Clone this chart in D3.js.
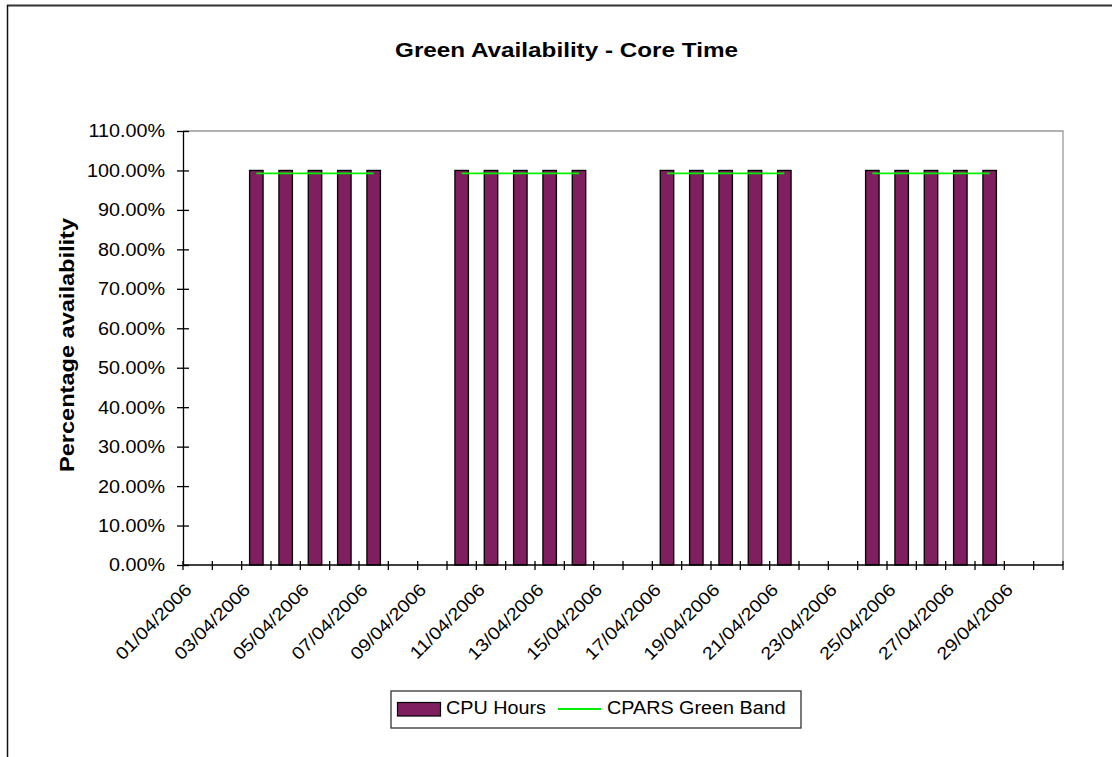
<!DOCTYPE html>
<html>
<head>
<meta charset="utf-8">
<script src="https://cdn.jsdelivr.net/npm/d3@7/dist/d3.min.js"></script>
<style>
  html, body { margin: 0; padding: 0; background: #fff; }
  svg { display: block; }
  text { font-family: "Liberation Sans", Arial, Helvetica, sans-serif; fill: #000; }
</style>
</head>
<body>
<svg id="chart" width="1112" height="757"></svg>
<script>
// ---- data ----
const dates = [
  "01/04/2006","02/04/2006","03/04/2006","04/04/2006","05/04/2006","06/04/2006",
  "07/04/2006","08/04/2006","09/04/2006","10/04/2006","11/04/2006","12/04/2006",
  "13/04/2006","14/04/2006","15/04/2006","16/04/2006","17/04/2006","18/04/2006",
  "19/04/2006","20/04/2006","21/04/2006","22/04/2006","23/04/2006","24/04/2006",
  "25/04/2006","26/04/2006","27/04/2006","28/04/2006","29/04/2006","30/04/2006"
];
const cpuHours = [
  null, null, 1, 1, 1, 1, 1, null, null, 1, 1, 1, 1, 1, null,
  null, 1, 1, 1, 1, 1, null, null, 1, 1, 1, 1, 1, null, null
];
const greenBand = [
  null, null, 0.9925, 0.9925, 0.9925, 0.9925, 0.9925, null, null, 0.9925, 0.9925, 0.9925, 0.9925, 0.9925, null,
  null, 0.9925, 0.9925, 0.9925, 0.9925, 0.9925, null, null, 0.9925, 0.9925, 0.9925, 0.9925, 0.9925, null, null
];
const yTicks = [0, 0.1, 0.2, 0.3, 0.4, 0.5, 0.6, 0.7, 0.8, 0.9, 1.0, 1.1];
const xLabels = dates.filter((d, i) => i % 2 === 0);
const title = "Green Availability - Core Time";
const yTitle = "Percentage availability";
const seriesNames = ["CPU Hours", "CPARS Green Band"];

// ---- layout ----
const plot = { left: 183, right: 1063, top: 131, bottom: 565 };
const barColor = "#7F1F5F";
const lineColor = "#00EE00";
const FS = 17.5;      // tick / legend font size
const K = 1.13;       // horizontal stretch of glyphs seen in the reference

const svg = d3.select("#chart");

// outer frame (top and left edges visible)
svg.append("line").attr("x1", 7).attr("x2", 1112).attr("y1", 5.5).attr("y2", 5.5)
  .attr("stroke", "#333").attr("stroke-width", 2);
svg.append("line").attr("x1", 7.5).attr("x2", 7.5).attr("y1", 5).attr("y2", 757)
  .attr("stroke", "#111").attr("stroke-width", 1.5);

const x = d3.scaleBand().domain(dates).range([plot.left, plot.right]).padding(0);
const y = d3.scaleLinear().domain([0, 1.1]).range([plot.bottom, plot.top]);

// plot area border (top & right, gray)
svg.append("path")
  .attr("d", `M${plot.left},${plot.top}H${plot.right}V${plot.bottom}`)
  .attr("fill", "none").attr("stroke", "#999").attr("stroke-width", 1.3);

// title
svg.append("text").attr("x", 395).attr("y", 57)
  .attr("textLength", 343).attr("lengthAdjust", "spacingAndGlyphs")
  .style("font-size", "20.5px").style("font-weight", "bold")
  .text(title);

// y axis title
svg.append("text")
  .attr("transform", `translate(74,472) rotate(-90)`)
  .attr("textLength", 254).attr("lengthAdjust", "spacingAndGlyphs")
  .style("font-size", "20.5px").style("font-weight", "bold")
  .text(yTitle);

// bars
const bw = x.bandwidth() * 0.46;
svg.append("g").selectAll("rect")
  .data(dates.map((d, i) => ({ d, v: cpuHours[i] })).filter(o => o.v != null))
  .join("rect")
  .attr("x", o => x(o.d) + (x.bandwidth() - bw) / 2)
  .attr("y", o => y(o.v))
  .attr("width", bw)
  .attr("height", o => y(0) - y(o.v))
  .attr("fill", barColor)
  .attr("stroke", "#000").attr("stroke-width", 1.3);

// green band line (gaps on weekends)
const line = d3.line()
  .defined(o => o.v != null)
  .x(o => x(o.d) + x.bandwidth() / 2)
  .y(o => y(o.v));
svg.append("path")
  .datum(dates.map((d, i) => ({ d, v: greenBand[i] })))
  .attr("d", line)
  .attr("fill", "none").attr("stroke", lineColor).attr("stroke-width", 1.8);

// y axis
const yAxis = d3.axisLeft(y).tickValues(yTicks).tickFormat(d3.format(".2%"))
  .tickSizeInner(6).tickSizeOuter(0).tickPadding(12);
const gy = svg.append("g").attr("transform", `translate(${plot.left},0)`).call(yAxis);
gy.select(".domain").attr("stroke", "#000").attr("stroke-width", 1.3);
gy.selectAll(".tick line").attr("x1", 6).attr("x2", -6).attr("stroke", "#000").attr("stroke-width", 1.3);
gy.selectAll(".tick text")
  .attr("x", 0).attr("dy", "0.34em")
  .attr("transform", `translate(-18,0) scale(${K},1)`)
  .style("font-size", FS + "px")
  .style("font-family", '"Liberation Sans", Arial, sans-serif').attr("fill", "#000");

// x axis baseline and boundary ticks
const boundaries = dates.map(d => x(d)).concat([plot.right]);
svg.append("line").attr("x1", plot.left).attr("x2", plot.right)
  .attr("y1", plot.bottom).attr("y2", plot.bottom).attr("stroke", "#000").attr("stroke-width", 1.3);
svg.append("g").selectAll("line").data(boundaries).join("line")
  .attr("x1", d => d).attr("x2", d => d)
  .attr("y1", plot.bottom - 4).attr("y2", plot.bottom + 5)
  .attr("stroke", "#000").attr("stroke-width", 1.3);

// x labels
const xAxis = d3.axisBottom(x).tickValues(xLabels).tickSize(0).tickPadding(0);
const gx = svg.append("g").attr("transform", `translate(0,${plot.bottom})`).call(xAxis);
gx.select(".domain").remove();
gx.selectAll(".tick text")
  .attr("y", 0).attr("dy", 0)
  .attr("text-anchor", "end")
  .attr("transform", `translate(-5,26) rotate(-45) scale(${K},1)`)
  .style("font-size", FS + "px")
  .style("font-family", '"Liberation Sans", Arial, sans-serif').attr("fill", "#000");

// legend
const lg = svg.append("g");
lg.append("rect").attr("x", 391).attr("y", 691).attr("width", 410).attr("height", 37)
  .attr("fill", "#fff").attr("stroke", "#333").attr("stroke-width", 1.3);
lg.append("rect").attr("x", 397.5).attr("y", 702.5).attr("width", 43).attr("height", 13.5)
  .attr("fill", barColor).attr("stroke", "#000").attr("stroke-width", 1.2);
lg.append("text").attr("transform", `translate(446,714) scale(${K},1)`)
  .style("font-size", FS + "px").text(seriesNames[0]);
lg.append("line").attr("x1", 558).attr("x2", 601).attr("y1", 709).attr("y2", 709)
  .attr("stroke", lineColor).attr("stroke-width", 1.8);
lg.append("text").attr("transform", `translate(607,714) scale(${K},1)`)
  .style("font-size", FS + "px").text(seriesNames[1]);
</script>
</body>
</html>
